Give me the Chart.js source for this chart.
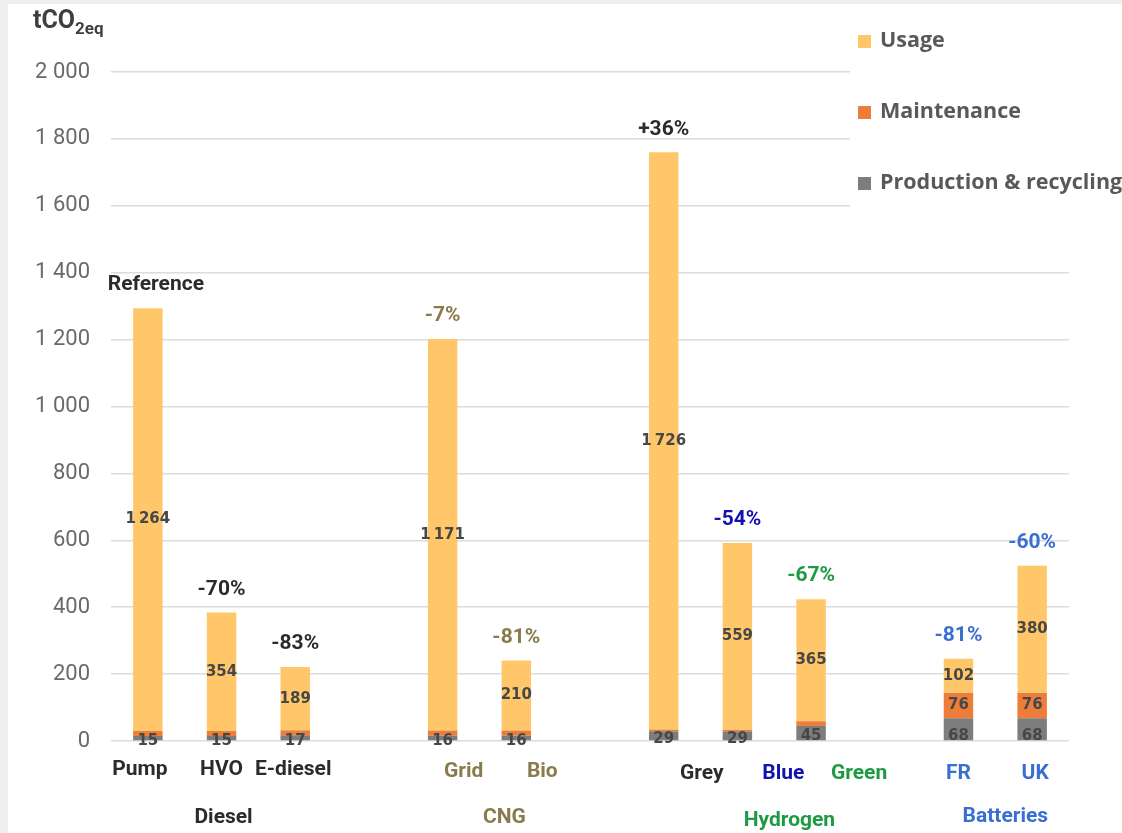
<!DOCTYPE html>
<html>
<head>
<meta charset="utf-8">
<script src="https://cdn.jsdelivr.net/npm/chart.js@4.4.1/dist/chart.umd.min.js"></script>
<style>
    body { margin: 0; background: #efefef; }
    #wrap { position: absolute; left: 8px; top: 4px; width: 1114px; height: 829px; background: #fff; }
</style>
</head>
<body>
<div id="wrap"><canvas id="co2Chart"></canvas></div>
<script>
// data
const categories = ['Pump', 'HVO', 'E-diesel', '', 'Grid', 'Bio', '', 'Grey', 'Blue', 'Green', '', 'FR', 'UK'];
const productionValues = [15, 15, 17, null, 16, 16, null, 29, 29, 45, null, 68, 68];
const maintenanceValues = [15, 15, 15, null, 15, 15, null, 5, 4, 14, null, 76, 76];
const usageValues = [1264, 354, 189, null, 1171, 210, null, 1726, 559, 365, null, 102, 380];
const changeLabels = ['Reference', '-70%', '-83%', '', '-7%', '-81%', '', '+36%', '-54%', '-67%', '', '-81%', '-60%'];
const groupNames = ['Diesel', 'CNG', 'Hydrogen', 'Batteries'];
const groupCentres = [1, 4.5, 8, 11.5];
const yTicks = [0, 200, 400, 600, 800, 1000, 1200, 1400, 1600, 1800, 2000];

// label styling
const DARK = '#2b2b2b', OLIVE = '#8a7a4c', NAVY = '#1212b4', GREEN = '#1e9a44', BLUE = '#3a6fd2';
const catColor = [DARK, DARK, DARK, DARK, OLIVE, OLIVE, DARK, DARK, NAVY, GREEN, DARK, BLUE, BLUE];
const catShift = [-8, 0, -2, 0, 21, 26, 0, 38, 46, 48, 0, 0, 3];
const catDrop = [29, 29, 29, 0, 31, 31, 0, 33, 33, 33, 0, 33, 33];
const changeColor = [DARK, DARK, DARK, DARK, OLIVE, OLIVE, DARK, DARK, NAVY, GREEN, DARK, BLUE, BLUE];
const groupColor = [DARK, OLIVE, GREEN, BLUE];
const groupShift = [2, 25, 52, 10];
const groupDrop = [77, 77, 80, 76];

function fmt(v) {
    const s = String(v);
    return v >= 1000 ? s.slice(0, -3) + '\u202f' + s.slice(-3) : s;
}

const extrasPlugin = {
    id: 'extras',
    afterDatasetsDraw(chart) {
        const ctx = chart.ctx;
        const xs = chart.scales.x, ys = chart.scales.y;
        ctx.save();

        // numbers inside the segments
        ctx.font = 'bold 15px "DejaVu Sans"';
        ctx.textAlign = 'center';
        ctx.textBaseline = 'middle';
        ctx.fillStyle = '#474747';
        chart.data.datasets.forEach((ds, di) => {
            chart.getDatasetMeta(di).data.forEach((bar, i) => {
                const v = ds.data[i];
                if (v == null) return;
                if (di === 1 && v < 30) return;
                const mid = (bar.y + bar.base) / 2;
                ctx.fillText(fmt(v), bar.x, di === 0 ? Math.max(mid, ys.bottom - 8) + 3 : mid);
            });
        });

        // change labels above the stacks
        ctx.font = 'bold 21px Roboto';
        categories.forEach((c, i) => {
            if (!changeLabels[i]) return;
            const total = productionValues[i] + maintenanceValues[i] + usageValues[i];
            ctx.fillStyle = changeColor[i];
            ctx.fillText(changeLabels[i], xs.getPixelForValue(i) + (i === 0 ? 8 : 0), ys.getPixelForValue(total) - 23);
        });

        // category and group names
        categories.forEach((c, i) => {
            if (!c) return;
            ctx.fillStyle = catColor[i];
            ctx.fillText(c, xs.getPixelForValue(i) + catShift[i], ys.bottom + catDrop[i]);
        });
        groupNames.forEach((g, k) => {
            ctx.fillStyle = groupColor[k];
            ctx.fillText(g, xs.getPixelForValue(groupCentres[k]) + groupShift[k], ys.bottom + groupDrop[k]);
        });

        // axis title
        ctx.textAlign = 'left';
        ctx.textBaseline = 'alphabetic';
        ctx.fillStyle = '#3f3f3f';
        ctx.font = 'bold 25px Roboto';
        ctx.fillText('tCO', 25, 24);
        const w = ctx.measureText('tCO').width;
        ctx.font = 'bold 17px Roboto';
        ctx.fillText('2eq', 25 + w, 30);

        // legend box
        ctx.fillStyle = '#ffffff';
        ctx.fillRect(842, 0, 272, 212);
        const legendY = [37, 108, 179];
        const order = [2, 1, 0];
        ctx.font = 'bold 21.5px "Open Sans"';
        ctx.textBaseline = 'middle';
        order.forEach((di, k) => {
            const ds = chart.data.datasets[di];
            ctx.fillStyle = ds.backgroundColor;
            ctx.fillRect(850, legendY[k] - 6, 13, 13);
            ctx.fillStyle = '#595959';
            ctx.fillText(ds.label, 872, legendY[k]);
        });
        ctx.restore();
    }
};

new Chart(document.getElementById('co2Chart'), {
    type: 'bar',
    data: {
        labels: categories,
        datasets: [
            { label: 'Production & recycling', data: productionValues, backgroundColor: '#7d7d7d' },
            { label: 'Maintenance', data: maintenanceValues, backgroundColor: '#ee7d3a' },
            { label: 'Usage', data: usageValues, backgroundColor: '#ffc76a' }
        ]
    },
    options: {
        responsive: true,
        maintainAspectRatio: false,
        animation: false,
        barPercentage: 0.4,
        categoryPercentage: 1,
        layout: { padding: { top: 68, right: 53, bottom: 92, left: 0 } },
        scales: {
            x: { stacked: true, display: false },
            y: {
                stacked: true,
                min: 0,
                max: 2000,
                afterFit(scale) { scale.width = 103; },
                afterBuildTicks(scale) { scale.ticks = yTicks.map(v => ({ value: v })); },
                border: { display: false },
                grid: { color: '#dcdcdc', lineWidth: 1.5, drawTicks: false },
                ticks: {
                    padding: 21,
                    color: '#6a6a6a',
                    font: { family: 'Roboto', size: 22 },
                    callback: v => v >= 1000 ? fmt(v).replace('\u202f', ' ') : String(v)
                }
            }
        },
        plugins: {
            legend: { display: false },
            tooltip: { enabled: false }
        }
    },
    plugins: [extrasPlugin]
});
</script>
</body>
</html>
